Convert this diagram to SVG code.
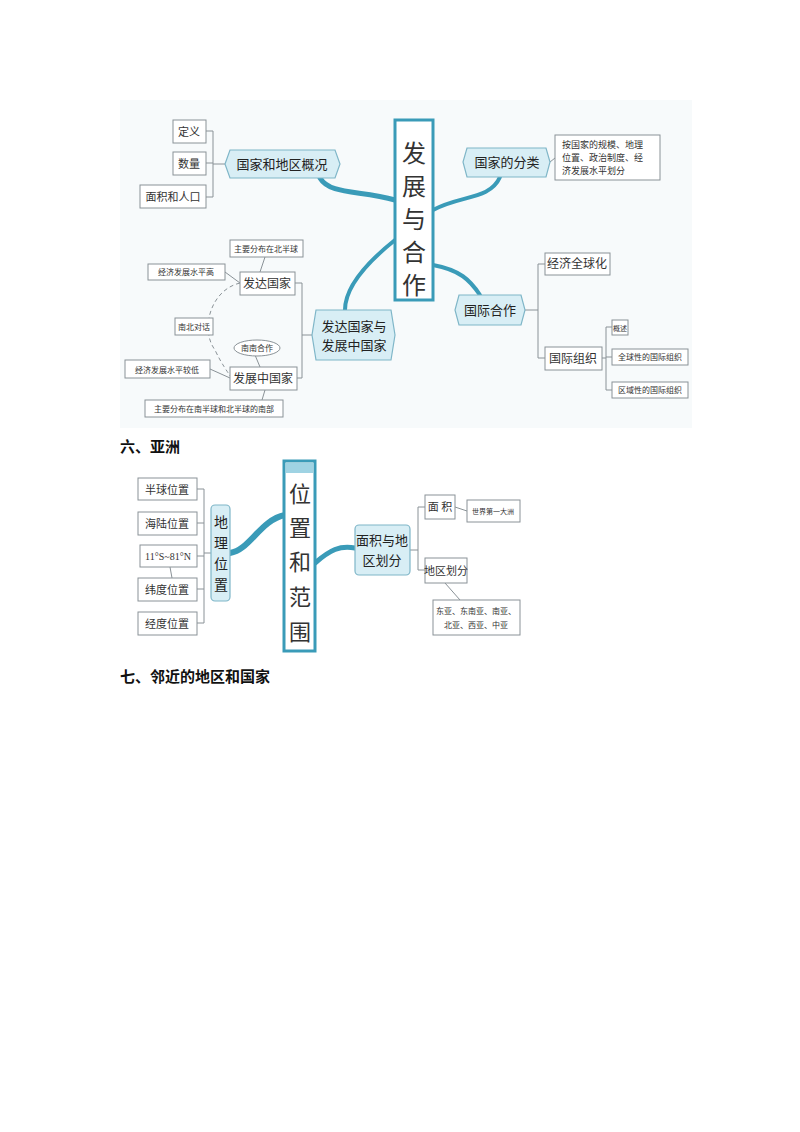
<svg xmlns="http://www.w3.org/2000/svg" width="800" height="1132" viewBox="0 0 800 1132">
<style>
text{font-family:"Liberation Serif","Noto Sans CJK SC",serif;fill:#333}
.s{font-family:"Noto Sans CJK SC",sans-serif;fill:#222}
.b{fill:#fff;stroke:#8a9297;stroke-width:1}
.h{fill:#d8eef5;stroke:#7fb6c8;stroke-width:1.2}
.l{fill:none;stroke:#8a9297;stroke-width:1}
.t{fill:none;stroke:#3a9bb8;stroke-linecap:round}
.c{fill:#fff;stroke:#3a9bb8;stroke-width:3}
.ttl{font-family:"Noto Sans CJK SC",sans-serif;font-weight:bold;font-size:15px;fill:#111}
</style>
<rect width="800" height="1132" fill="#fff"/>
<rect x="120" y="100" width="572" height="328" fill="#f7fafb"/>
<g id="connectors">
<path class="t" stroke-width="5" d="M320 178 C330 195 360 190 395 200"/>
<path class="t" stroke-width="4" d="M500 177 C490 200 460 195 433 210"/>
<path class="t" stroke-width="4" d="M433 265 C460 270 470 280 480 295"/>
<path class="t" stroke-width="4" d="M395 240 C370 260 345 285 345 310"/>
<path class="l" d="M225 164 H213 M206 131 H213 V197 H206 M206 163 H213"/>
<path class="l" d="M550 162 L555 158"/>
<path class="l" d="M525 310 H538 M545 264 H538 V358 H545"/>
<path class="l" d="M602 358 H606 M612 327 H606 V390 H612 M606 357 H612"/>
<path class="l" d="M312 335 H302 M295 283 H302 V378 H297"/>
<path class="l" d="M225 272 L240 283 M210 369 L230 378 M265 257 L260 272 M255 355 L260 367 M262 400 L265 390"/>
<path fill="none" stroke="#8a9297" stroke-dasharray="4 3" d="M240 283 C210 290 200 330 215 350 C222 365 228 372 230 376"/>
<path class="t" stroke-width="6" d="M230 553 C250 550 260 520 285 515"/>
<path class="t" stroke-width="5" d="M315 563 C330 550 340 545 355 548"/>
<path class="l" d="M211 553 H204 M197 489 H204 V623 H197 M197 523 H204 M197 556 H204 M197 589 H204 M170 567 L172 578"/>
<path class="l" d="M410 550 H418 M425 507 H418 V570 H425 M455 507 L467 511 M445 583 L460 600"/>
</g>
<g id="center1"><rect class="c" x="395" y="120" width="38" height="180"/><text x="414" y="162" font-size="24" text-anchor="middle">发</text><text x="414" y="195" font-size="24" text-anchor="middle">展</text><text x="414" y="228" font-size="24" text-anchor="middle">与</text><text x="414" y="261" font-size="24" text-anchor="middle">合</text><text x="414" y="294" font-size="24" text-anchor="middle">作</text></g>
<g id="n1"><path class="h" d="M230 150 H335 L340 164 L335 178 H230 L225 164 Z"/><text class="s" x="282" y="169" font-size="13" text-anchor="middle">国家和地区概况</text></g>
<g id="n1a"><rect class="b" x="173" y="120" width="33" height="23"/><text x="189" y="136" font-size="11" text-anchor="middle">定义</text></g>
<g id="n1b"><rect class="b" x="173" y="152" width="33" height="23"/><text x="189" y="168" font-size="11" text-anchor="middle">数量</text></g>
<g id="n1c"><rect class="b" x="140" y="185" width="66" height="23"/><text x="173" y="201" font-size="11" text-anchor="middle">面积和人口</text></g>
<g id="n2"><path class="h" d="M467 148 H546 L550 162 L546 177 H467 L463 162 Z"/><text class="s" x="507" y="167" font-size="13" text-anchor="middle">国家的分类</text></g>
<g id="n2a"><rect class="b" x="555" y="135" width="105" height="45"/><text x="562" y="148" font-size="9">按国家的规模、地理</text><text x="562" y="161" font-size="9">位置、政治制度、经</text><text x="562" y="174" font-size="9">济发展水平划分</text></g>
<g id="n3"><path class="h" d="M459 295 H521 L525 310 L521 325 H459 L455 310 Z"/><text class="s" x="490" y="315" font-size="13" text-anchor="middle">国际合作</text></g>
<g id="n3a"><rect class="b" x="545" y="253" width="65" height="22"/><text x="577" y="268" font-size="12" text-anchor="middle">经济全球化</text></g>
<g id="n3b"><rect class="b" x="545" y="347" width="57" height="23"/><text x="573" y="363" font-size="12" text-anchor="middle">国际组织</text></g>
<g id="n3b1"><rect class="b" x="612" y="320" width="16" height="15"/><text x="620" y="331" font-size="7" text-anchor="middle">概述</text></g>
<g id="n3b2"><rect class="b" x="612" y="349" width="76" height="16"/><text x="650" y="360" font-size="8" text-anchor="middle">全球性的国际组织</text></g>
<g id="n3b3"><rect class="b" x="612" y="382" width="76" height="16"/><text x="650" y="393" font-size="8" text-anchor="middle">区域性的国际组织</text></g>
<g id="n4"><path class="h" d="M316 310 H391 L395 335 L391 360 H316 L312 335 Z"/><text class="s" x="354" y="331" font-size="13" text-anchor="middle">发达国家与</text><text class="s" x="354" y="350" font-size="13" text-anchor="middle">发展中国家</text></g>
<g id="n4a"><rect class="b" x="240" y="272" width="55" height="23"/><text x="267" y="288" font-size="12" text-anchor="middle">发达国家</text></g>
<g id="n4b"><rect class="b" x="230" y="240" width="73" height="17"/><text x="266" y="252" font-size="8" text-anchor="middle">主要分布在北半球</text></g>
<g id="n4c"><rect class="b" x="148" y="264" width="77" height="16"/><text x="186" y="275" font-size="8" text-anchor="middle">经济发展水平高</text></g>
<g id="n4d"><rect class="b" x="175" y="318" width="38" height="17"/><text x="194" y="330" font-size="8" text-anchor="middle">南北对话</text></g>
<g id="n4e"><ellipse cx="257" cy="348" rx="23" ry="8" fill="#fff" stroke="#8a9297"/><text x="257" y="351" font-size="8" text-anchor="middle">南南合作</text></g>
<g id="n4f"><rect class="b" x="125" y="360" width="85" height="18"/><text x="167" y="373" font-size="8" text-anchor="middle">经济发展水平较低</text></g>
<g id="n4g"><rect class="b" x="230" y="367" width="67" height="23"/><text x="263" y="383" font-size="12" text-anchor="middle">发展中国家</text></g>
<g id="n4h"><rect class="b" x="145" y="400" width="138" height="17"/><text x="214" y="412" font-size="8" text-anchor="middle">主要分布在南半球和北半球的南部</text></g>
<text class="ttl" x="120" y="452">六、亚洲</text>
<g id="center2"><rect class="c" x="284" y="461" width="31" height="190"/><rect x="286" y="463" width="27" height="10" fill="#9fd3e3"/><text x="300" y="502" font-size="22" text-anchor="middle">位</text><text x="300" y="536" font-size="22" text-anchor="middle">置</text><text x="300" y="570" font-size="22" text-anchor="middle">和</text><text x="300" y="605" font-size="22" text-anchor="middle">范</text><text x="300" y="640" font-size="22" text-anchor="middle">围</text></g>
<g id="m1"><rect class="h" x="211" y="505" width="19" height="96" rx="4"/><text class="s" x="221" y="527" font-size="14" text-anchor="middle">地</text><text class="s" x="221" y="548" font-size="14" text-anchor="middle">理</text><text class="s" x="221" y="569" font-size="14" text-anchor="middle">位</text><text class="s" x="221" y="590" font-size="14" text-anchor="middle">置</text></g>
<g id="m1a"><rect class="b" x="138" y="478" width="59" height="22"/><text x="167" y="494" font-size="11" text-anchor="middle">半球位置</text></g>
<g id="m1b"><rect class="b" x="138" y="512" width="59" height="23"/><text x="167" y="528" font-size="11" text-anchor="middle">海陆位置</text></g>
<g id="m1c"><rect class="b" x="140" y="545" width="57" height="22"/><text x="168" y="560" font-size="10" text-anchor="middle">11°S~81°N</text></g>
<g id="m1d"><rect class="b" x="138" y="578" width="59" height="23"/><text x="167" y="594" font-size="11" text-anchor="middle">纬度位置</text></g>
<g id="m1e"><rect class="b" x="138" y="612" width="59" height="23"/><text x="167" y="628" font-size="11" text-anchor="middle">经度位置</text></g>
<g id="m2"><rect class="h" x="355" y="525" width="55" height="50" rx="4"/><text class="s" x="382" y="545" font-size="13" text-anchor="middle">面积与地</text><text class="s" x="382" y="565" font-size="13" text-anchor="middle">区划分</text></g>
<g id="m2a"><rect class="b" x="425" y="495" width="30" height="24"/><text x="440" y="511" font-size="11" text-anchor="middle">面 积</text></g>
<g id="m2b"><rect class="b" x="467" y="500" width="53" height="22"/><text x="493" y="514" font-size="7" text-anchor="middle">世界第一大洲</text></g>
<g id="m2c"><rect class="b" x="425" y="558" width="42" height="25"/><text x="446" y="575" font-size="11" text-anchor="middle">地区划分</text></g>
<g id="m2d"><rect class="b" x="433" y="600" width="87" height="35"/><text x="476" y="614" font-size="8" text-anchor="middle">东亚、东南亚、南亚、</text><text x="476" y="628" font-size="8" text-anchor="middle">北亚、西亚、中亚</text></g>
<text class="ttl" x="120" y="682">七、邻近的地区和国家</text>
</svg>
